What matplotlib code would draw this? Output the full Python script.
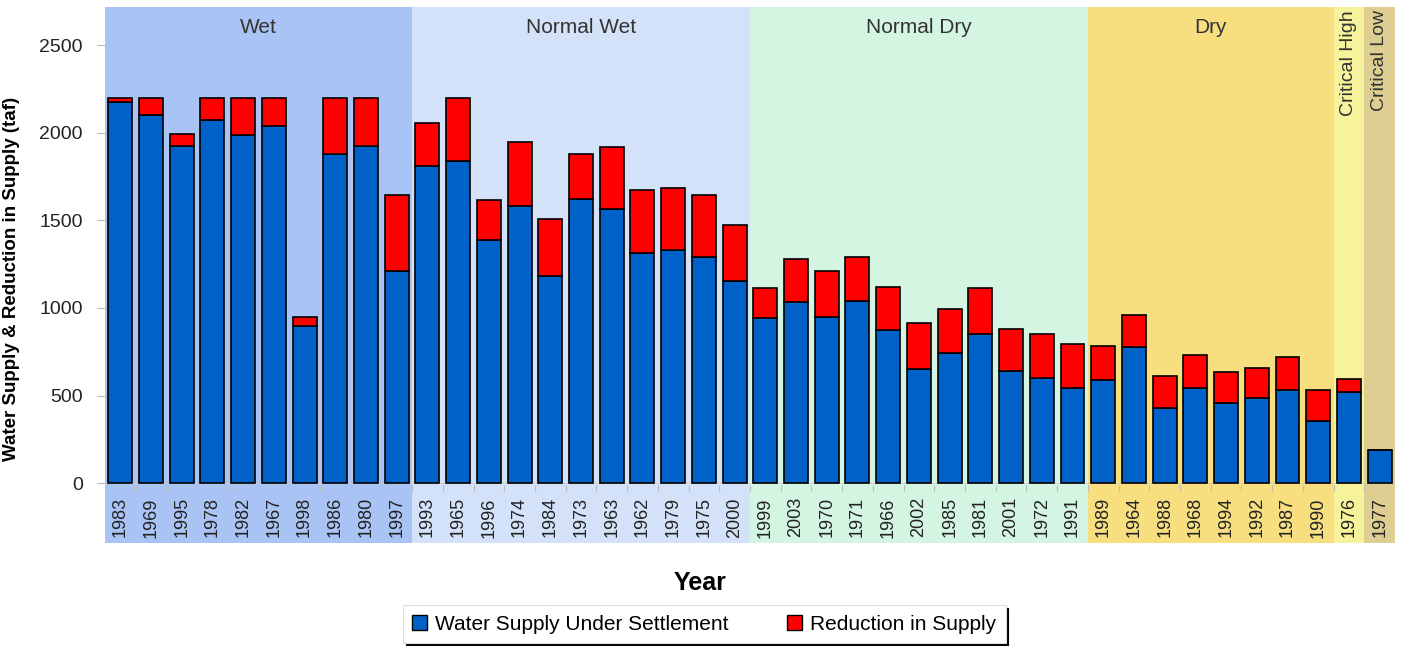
import numpy as np
import matplotlib.pyplot as plt
from matplotlib.patches import Patch

plt.rcParams['font.family'] = ['Liberation Sans', 'DejaVu Sans']

# year types (groups) and the years in each, in chart order
groups = ["Wet", "Normal Wet", "Normal Dry", "Dry", "Critical High", "Critical Low"]
group_colors = ["#A9C4F4", "#D3E2F8", "#D4F5E1", "#F7DF80", "#F7F29C", "#DFCE92"]

years_wet = ["1983", "1969", "1995", "1978", "1982", "1967", "1998", "1986", "1980", "1997"]
years_nwet = ["1993", "1965", "1996", "1974", "1984", "1973", "1963", "1962", "1979", "1975", "2000"]
years_ndry = ["1999", "2003", "1970", "1971", "1966", "2002", "1985", "1981", "2001", "1972", "1991"]
years_dry = ["1989", "1964", "1988", "1968", "1994", "1992", "1987", "1990"]
years_chigh = ["1976"]
years_clow = ["1977"]

# water supply under settlement (taf)
supply_wet = [2178, 2103, 1925, 2075, 1989, 2036, 895, 1878, 1925, 1211]
supply_nwet = [1811, 1839, 1388, 1584, 1181, 1624, 1565, 1311, 1328, 1290, 1153]
supply_ndry = [942, 1033, 948, 1039, 873, 651, 742, 850, 639, 599, 542]
supply_dry = [588, 776, 428, 542, 457, 485, 531, 354]
supply_chigh = [519]
supply_clow = [188]

# reduction in supply (taf)
red_wet = [22, 97, 69, 125, 211, 164, 54, 322, 275, 431]
red_nwet = [245, 361, 228, 362, 328, 256, 353, 363, 354, 354, 323]
red_ndry = [171, 246, 262, 251, 246, 262, 251, 263, 240, 251, 251]
red_dry = [194, 183, 183, 189, 177, 171, 188, 177]
red_chigh = [75]
red_clow = [0]

year_groups = [years_wet, years_nwet, years_ndry, years_dry, years_chigh, years_clow]
years = sum(year_groups, [])
supply = np.array(supply_wet + supply_nwet + supply_ndry + supply_dry + supply_chigh + supply_clow)
reduction = np.array(red_wet + red_nwet + red_ndry + red_dry + red_chigh + red_clow)
x = np.arange(len(years))

fig = plt.figure(figsize=(14.03, 6.46), dpi=100)
ax = fig.add_axes([0.0748, 0.1594, 0.9195, 0.8296])

ylo, yhi = -342, 2717
ax.set_xlim(-0.5, len(years) - 0.5)
ax.set_ylim(ylo, yhi)

# background bands for each year type, also behind the year labels
start = 0
for name, yrs, col in zip(groups, year_groups, group_colors):
    end = start + len(yrs)
    ax.axvspan(start - 0.5, end - 0.5, color=col, zorder=0, lw=0)
    cx = (start + end - 1) / 2
    if len(yrs) > 1:
        ax.text(cx, 2600, name, ha='center', va='center', fontsize=15, color='#333333')
    else:
        ax.text(cx, 2700, name, ha='center', va='top', rotation=90, fontsize=14, color='#333333')
    start = end

# stacked bars
ax.bar(x, supply, width=0.78, color='#0062C9', edgecolor='black', linewidth=1.2, zorder=3)
ax.bar(x, reduction, width=0.78, bottom=supply, color='#FF0000', edgecolor='black',
       linewidth=1.2, zorder=3)

# year labels and little separators under the bars
for i, yr in enumerate(years):
    ax.text(i, -80, yr, rotation=90, ha='center', va='top', fontsize=13, color='#222222')
ax.vlines(x[:-1] + 0.5, -45, -10, color='#BBBBBB', lw=0.8, zorder=1)
ax.axhline(0, color='#CCCCCC', lw=0.6, zorder=1)

ax.set_xticks([])
ax.set_yticks([0, 500, 1000, 1500, 2000, 2500])
ax.tick_params(axis='y', length=6, width=0.8, color='#BBBBBB', pad=10, labelsize=14,
               labelcolor='#222222')
for s in ax.spines.values():
    s.set_visible(False)

ax.set_ylabel("Water Supply & Reduction in Supply (taf)", fontsize=13.5, fontweight='bold',
              labelpad=4)
ax.yaxis.set_label_coords(-0.066, 0.4926)

fig.text(0.499, 0.098, "Year", ha='center', va='center', fontsize=18, fontweight='bold')

handles = [Patch(facecolor='#0062C9', edgecolor='black', label='Water Supply Under Settlement'),
           Patch(facecolor='#FF0000', edgecolor='black', label='Reduction in Supply')]
leg = fig.legend(handles=handles, loc='center', bbox_to_anchor=(0.502, 0.034), ncol=2,
                 fontsize=15, frameon=True, fancybox=False, handlelength=0.7,
                 handleheight=0.7, handletextpad=0.4, columnspacing=2.8,
                 borderpad=0.45, shadow={'color': 'black', 'alpha': 1})
leg.get_frame().set_edgecolor('#DDDDDD')
leg.get_frame().set_linewidth(0.8)

fig.savefig("out.png", dpi=100)
